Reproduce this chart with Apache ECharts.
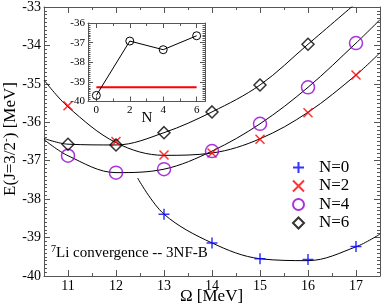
<!DOCTYPE html>
<html>
<head>
<meta charset="utf-8">
<script src="https://cdn.jsdelivr.net/npm/echarts@6/dist/echarts.min.js"></script>
<style>html,body{margin:0;padding:0;background:#fff}#c{width:382px;height:307px}</style>
</head>
<body>
<div id="c"></div>
<script>
// ---- data ----
var omega = [11, 12, 13, 14, 15, 16, 17];
var n0Omega = [13, 14, 15, 16, 17];
var n0 = [-38.39, -39.14, -39.55, -39.57, -39.23];
var n2 = [-35.57, -36.50, -36.85, -36.80, -36.44, -35.75, -34.77];
var n4 = [-36.87, -37.31, -37.22, -36.75, -36.04, -35.09, -33.94];
var n6Omega = [11, 12, 13, 14, 15, 16];
var n6 = [-36.57, -36.59, -36.27, -35.73, -35.03, -33.97];
// fit curves
var fit0 = [[12.45, -37.45], [13, -38.39], [14, -39.14], [15, -39.55], [16, -39.60], [17, -39.24], [17.5, -38.91]];
var fit2 = [[10.5, -34.90], [11, -35.60], [12, -36.53], [13, -36.86], [14, -36.80], [15, -36.43], [16, -35.74], [17, -34.77], [17.5, -34.19]];
var fit4 = [[10.5, -36.45], [11, -36.87], [12, -37.31], [13, -37.22], [14, -36.75], [15, -36.04], [16, -35.09], [17, -33.94], [17.5, -33.33]];
var fit6 = [[10.5, -36.42], [11, -36.57], [12, -36.59], [13, -36.27], [14, -35.73], [15, -35.03], [16, -33.97], [17, -32.90]];
// inset
var insetN = [0, 2, 4, 6];
var insetE = [-39.69, -36.92, -37.36, -36.65];
var insetRef = -39.27;
var xTicks = [11, 12, 13, 14, 15, 16, 17];
var insetXTicks = [0, 2, 4, 6];
var insetXMinor = [1, 3, 5];

var SERIF = '"Liberation Serif", "DejaVu Serif", serif';
var AX = '#555';

function zip(xs, ys) { return xs.map(function (x, i) { return [x, ys[i]]; }); }

var chart = echarts.init(document.getElementById('c'), null, {renderer: 'canvas'});

function xMinor(pos, grid, min, max, interval, len) {
  return {type: 'value', gridIndex: grid, position: pos, min: min, max: max, interval: interval,
    axisLine: {show: true, onZero: false, lineStyle: {color: AX, width: 1}},
    axisTick: {show: true, inside: true, length: len, lineStyle: {color: AX}},
    axisLabel: {show: false}, splitLine: {show: false}};
}
function xMajor(pos, grid, min, max, vals, len, labels, fs, margin, line) {
  return {type: 'value', gridIndex: grid, position: pos, min: min, max: max,
    axisLine: {show: !!line, onZero: false, lineStyle: {color: AX, width: 1}},
    axisTick: {show: true, inside: true, length: len, customValues: vals, lineStyle: {color: AX}},
    axisLabel: {show: labels, customValues: vals, fontFamily: SERIF, fontSize: fs, color: '#000', margin: margin},
    splitLine: {show: false}};
}
function yAx(pos, grid, min, max, labels, fs, len, mlen) {
  return {type: 'value', gridIndex: grid, position: pos, min: min, max: max, interval: 1,
    axisLine: {show: true, onZero: false, lineStyle: {color: AX, width: 1}},
    axisTick: {show: true, inside: true, length: len, lineStyle: {color: AX}},
    minorTick: {show: true, splitNumber: 10, length: mlen, lineStyle: {color: AX}},
    axisLabel: {show: labels, fontFamily: SERIF, fontSize: fs, color: '#000', margin: 3},
    splitLine: {show: false}, minorSplitLine: {show: false}};
}

var plusPath = 'path://M5,0L5,10M0,5L10,5';
var crossPath = 'path://M0,0L10,10M10,0L0,10';

function fitLine(data) {
  return {type: 'line', xAxisIndex: 0, yAxisIndex: 0, data: data, smooth: 0.35, showSymbol: false,
    symbol: 'none', lineStyle: {color: '#000', width: 1}, z: 2, silent: true};
}
function marks(name, data, symbol, size, color) {
  return {name: name, type: 'scatter', xAxisIndex: 0, yAxisIndex: 0, data: data, symbol: symbol, symbolSize: size,
    itemStyle: {color: 'rgba(0,0,0,0)', borderColor: color, borderWidth: 1.5}, z: 5};
}

var option = {
  animation: false,
  backgroundColor: '#fff',
  grid: [
    {left: 44, top: 7, width: 336, height: 269},
    {left: 88, top: 23, width: 117, height: 78.5}
  ],
  xAxis: [
    xMinor('bottom', 0, 10.5, 17.5, 0.5, 3),
    xMajor('bottom', 0, 10.5, 17.5, xTicks, 6, true, 14, 3),
    xMinor('top', 0, 10.5, 17.5, 0.5, 3),
    xMajor('top', 0, 10.5, 17.5, xTicks, 6, false, 14, 3),
    xMajor('bottom', 1, -0.5, 6.5, insetXTicks, 5, true, 11, 3, true),
    xMajor('bottom', 1, -0.5, 6.5, insetXMinor, 3, false, 11, 3),
    xMajor('top', 1, -0.5, 6.5, insetXTicks, 5, false, 11, 3, true),
    xMajor('top', 1, -0.5, 6.5, insetXMinor, 3, false, 11, 3)
  ],
  yAxis: [
    yAx('left', 0, -40, -33, true, 14, 6, 3),
    yAx('right', 0, -40, -33, false, 14, 6, 3),
    yAx('left', 1, -40, -36, true, 11, 5, 2.5),
    yAx('right', 1, -40, -36, false, 11, 5, 2.5)
  ],
  legend: {
    orient: 'vertical', left: 287, top: 154, itemWidth: 11, itemHeight: 11, itemGap: 1.5,
    data: ['N=0', 'N=2', 'N=4', 'N=6'],
    textStyle: {fontFamily: SERIF, fontSize: 17, color: '#000', padding: [0, 0, 0, 10]}
  },
  series: [
    fitLine(fit0), fitLine(fit2), fitLine(fit4), fitLine(fit6),
    marks('N=0', zip(n0Omega, n0), plusPath, 11, '#0000ff'),
    marks('N=2', zip(omega, n2), crossPath, 9, '#ff0000'),
    marks('N=4', zip(omega, n4), 'circle', 13, '#9400d3'),
    marks('N=6', zip(n6Omega, n6), 'diamond', 12, '#000'),
    {type: 'line', xAxisIndex: 4, yAxisIndex: 2, data: [[insetN[0], insetRef], [insetN[insetN.length - 1], insetRef]],
      showSymbol: false, symbol: 'none', lineStyle: {color: '#ff0000', width: 2}, z: 6},
    {type: 'line', xAxisIndex: 4, yAxisIndex: 2, data: zip(insetN, insetE), symbol: 'circle', symbolSize: 8,
      lineStyle: {color: '#000', width: 1}, itemStyle: {color: 'rgba(255,255,255,0)', borderColor: '#000', borderWidth: 1}, z: 7}
  ],
  graphic: [
    {type: 'text', position: [211.5, 297], style: {text: 'Ω [MeV]', font: '17px ' + SERIF, fill: '#000', align: 'center', verticalAlign: 'middle'}},
    {type: 'text', position: [147, 118], style: {text: 'N', font: '15px ' + SERIF, fill: '#000', align: 'center', verticalAlign: 'middle'}},
    {type: 'text', position: [51, 253], style: {
      text: '{s|7}{a|Li convergence -- 3NF-B}', align: 'left', verticalAlign: 'middle',
      rich: {s: {fontFamily: SERIF, fontSize: 10, fill: '#000', color: '#000', verticalAlign: 'top', lineHeight: 18},
             a: {fontFamily: SERIF, fontSize: 15, fill: '#000', color: '#000', lineHeight: 18}}}},
    {type: 'text', position: [11, 139], rotation: Math.PI / 2, style: {
      text: '{a|E(J=3/2}{s|-}{a|) [MeV]}', align: 'center', verticalAlign: 'middle',
      rich: {s: {fontFamily: SERIF, fontSize: 11, color: '#000', verticalAlign: 'top', lineHeight: 20},
             a: {fontFamily: SERIF, fontSize: 17, color: '#000', lineHeight: 20}}}}
  ]
};
chart.setOption(option);
</script>
</body>
</html>
